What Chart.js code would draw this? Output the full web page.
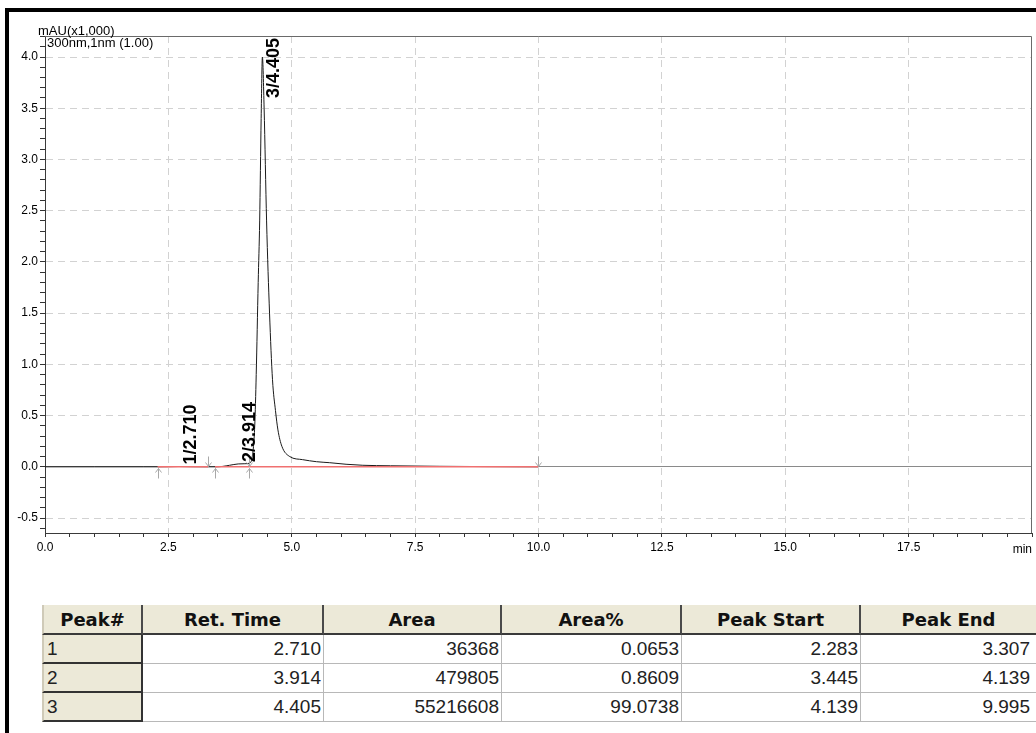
<!DOCTYPE html>
<html>
<head>
<meta charset="utf-8">
<script src="https://cdn.jsdelivr.net/npm/chart.js@4.4.1/dist/chart.umd.min.js"></script>
<style>
  html, body { margin: 0; padding: 0; background: #fff; width: 1036px; height: 733px; overflow: hidden; }
  #frameTop { position: absolute; left: 5px; top: 8px; width: 1031px; height: 4px; background: #000; }
  #frameLeft { position: absolute; left: 5px; top: 8px; width: 4px; height: 725px; background: #000; }
  #chartBox { position: absolute; left: 0; top: 0; width: 1036px; height: 570px; }
  #tableBox { position: absolute; left: 42px; top: 605px; width: 994px; height: 120px; overflow: hidden; }
  table { border-collapse: separate; border-spacing: 0; table-layout: fixed; width: 994px; }
  th { background: #ece9d8; font-family: "DejaVu Sans", sans-serif; font-weight: bold; font-size: 18px; color: #111;
       height: 28px; padding: 0; text-align: center; border-right: 2px solid #4a4a4a; border-bottom: 2px solid #3a3a3a; }
  th:first-child { border-left: 2px solid #cfcab8; }
  th:last-child { border-right: none; }
  td { font-family: "Liberation Sans", Arial, sans-serif; font-size: 19px; color: #222; height: 28px; padding: 0 2px 0 3px;
       text-align: right; background: #fff; border-right: 1px solid #b8b8b8; border-bottom: 1px solid #b8b8b8; }
  td:last-child { border-right: none; padding-right: 6px; }
  td.pk { text-align: left; background: #ece9d8; border-right: 2px solid #333; border-bottom: 2px solid #333; border-left: 2px solid #cfcab8; height: 27px; }
</style>
</head>
<body>
<div id="chartBox"><canvas id="c" width="1036" height="570"></canvas></div>
<div id="frameTop"></div>
<div id="frameLeft"></div>
<div id="tableBox"><table id="tbl"></table></div>
<script>
// ---- Chromatogram data (time in min, signal in mAU x1,000) ----
const times  = [0, 1.0, 2.0, 2.283, 2.5, 2.71, 3.0, 3.307, 3.445, 3.6, 3.74, 3.914, 4.05, 4.139, 4.2, 4.25, 4.28, 4.32, 4.35, 4.38, 4.405, 4.44, 4.49, 4.55, 4.61, 4.67, 4.72, 4.80, 4.96, 5.22, 5.5, 5.77, 6.1, 6.44, 7.0, 8.0, 9.0, 9.995, 10.0];
const signal = [0, 0, 0, 0, 0.001, 0.003, 0.001, 0, 0, 0.004, 0.015, 0.028, 0.03, 0.035, 0.1, 0.4, 0.9, 1.8, 2.4, 3.4, 4.0, 3.5, 2.4, 1.5, 0.85, 0.55, 0.36, 0.2, 0.1, 0.07, 0.05, 0.04, 0.025, 0.015, 0.01, 0.005, 0.002, 0.0, 0.0];

// ---- Peak table ----
const peakNo    = [1, 2, 3];
const retTime   = [2.710, 3.914, 4.405];
const peakArea  = [36368, 479805, 55216608];
const areaPct   = [0.0653, 0.8609, 99.0738];
const peakStart = [2.283, 3.445, 4.139];
const peakEnd   = [3.307, 4.139, 9.995];
const tableHeaders = ['Peak#', 'Ret. Time', 'Area', 'Area%', 'Peak Start', 'Peak End'];

// ---- Axis tick labels ----
const xTickLabels = ['0.0', '2.5', '5.0', '7.5', '10.0', '12.5', '15.0', '17.5', 'min'];
const yTickLabels = ['-0.5', '0.0', '0.5', '1.0', '1.5', '2.0', '2.5', '3.0', '3.5', '4.0'];
const yTitle = 'mAU(x1,000)';
const channelLabel = '300nm,1nm (1.00)';

const X_MIN = 0, X_MAX = 20, X_MAJOR = 2.5, X_MINOR = 0.5;
const Y_MIN = -0.646, Y_MAX = 4.205, Y_MAJOR = 0.5, Y_MINOR = 0.1;

function near(v, step) { const r = v / step; return Math.abs(r - Math.round(r)) < 1e-6; }
function interp(t) {
  for (let i = 0; i < times.length - 1; i++) {
    if (t >= times[i] && t <= times[i + 1]) {
      const f = (t - times[i]) / (times[i + 1] - times[i]);
      return signal[i] + f * (signal[i + 1] - signal[i]);
    }
  }
  return 0;
}

// build table
(function () {
  const tbl = document.getElementById('tbl');
  const widths = [101, 181, 178, 180, 179, 175];
  let cg = '<colgroup>' + widths.map(w => '<col style="width:' + w + 'px">').join('') + '</colgroup>';
  let h = '<tr>' + tableHeaders.map(t => '<th>' + t + '</th>').join('') + '</tr>';
  let rows = peakNo.map((p, i) => '<tr><td class="pk">' + p + '</td><td>' + retTime[i].toFixed(3) + '</td><td>' + peakArea[i] +
    '</td><td>' + areaPct[i].toFixed(4) + '</td><td>' + peakStart[i].toFixed(3) + '</td><td>' + peakEnd[i].toFixed(3) + '</td></tr>').join('');
  tbl.innerHTML = cg + h + rows;
})();

const chromPoints = times.map((t, i) => ({ x: t, y: signal[i] }));
const baselineSets = peakNo.map((p, i) => ({
  data: [{ x: peakStart[i], y: 0 }, { x: peakEnd[i], y: 0 }],
  borderColor: '#f07070', borderWidth: 1.5, pointRadius: 0, tension: 0
}));

const overlay = {
  id: 'overlay',
  beforeDatasetsDraw(chart) {
    const { ctx, chartArea: a } = chart;
    ctx.save();
    ctx.strokeStyle = '#6a6a6a'; ctx.lineWidth = 1;
    ctx.beginPath();
    ctx.moveTo(a.left, a.top + 0.5); ctx.lineTo(a.right - 0.5, a.top + 0.5); ctx.lineTo(a.right - 0.5, a.bottom);
    ctx.stroke();
    ctx.restore();
  },
  afterDatasetsDraw(chart) {
    const { ctx, chartArea: a, scales: { x, y } } = chart;
    ctx.save();
    const y0 = Math.round(y.getPixelForValue(0)) + 0.5;
    ctx.strokeStyle = '#a8a8a8'; ctx.lineWidth = 1;
    function arrow(px, dir) {
      px = Math.round(px) + 0.5;
      ctx.beginPath();
      if (dir > 0) { // below line, pointing up
        ctx.moveTo(px, y0 + 1); ctx.lineTo(px, y0 + 11);
        ctx.moveTo(px - 3, y0 + 5); ctx.lineTo(px, y0 + 1); ctx.lineTo(px + 3, y0 + 5);
      } else { // above line, pointing down
        ctx.moveTo(px, y0 - 11); ctx.lineTo(px, y0 - 1);
        ctx.moveTo(px - 3, y0 - 5); ctx.lineTo(px, y0 - 1); ctx.lineTo(px + 3, y0 - 5);
      }
      ctx.stroke();
    }
    peakNo.forEach((p, i) => { arrow(x.getPixelForValue(peakStart[i]), 1); arrow(x.getPixelForValue(peakEnd[i]), -1); });

    // peak labels
    ctx.fillStyle = '#000';
    ctx.font = 'bold 18px "Liberation Sans", Arial, sans-serif';
    ctx.textAlign = 'left'; ctx.textBaseline = 'alphabetic';
    peakNo.forEach((p, i) => {
      const txt = p + '/' + retTime[i].toFixed(3);
      const w = ctx.measureText(txt).width;
      const px = x.getPixelForValue(retTime[i]) + 17;
      const apex = y.getPixelForValue(interp(retTime[i]));
      const py = Math.max(apex - 2, a.top + 2 + w);
      ctx.save(); ctx.translate(px, py); ctx.rotate(-Math.PI / 2); ctx.fillText(txt, 0, 0); ctx.restore();
    });

    // titles
    ctx.font = '13px "Liberation Sans", Arial, sans-serif';
    ctx.fillStyle = '#000';
    ctx.textBaseline = 'alphabetic';
    ctx.fillText(yTitle, 38, a.top - 1);
    ctx.fillText(channelLabel, a.left + 2, a.top + 11);
    ctx.font = '12px "Liberation Sans", Arial, sans-serif';
    ctx.textAlign = 'right'; ctx.textBaseline = 'middle';
    ctx.fillText(xTickLabels[xTickLabels.length - 1], a.right, x.bottom - 37 + 16 + 1);
    ctx.restore();
  }
};

Chart.defaults.font.family = '"Liberation Sans", Arial, sans-serif';
Chart.defaults.font.size = 12;
Chart.defaults.color = '#000';

new Chart(document.getElementById('c'), {
  type: 'line',
  data: {
    datasets: [...baselineSets, {
      data: chromPoints, borderColor: '#1a1a1a', borderWidth: 1, pointRadius: 0, cubicInterpolationMode: 'monotone'
    }]
  },
  options: {
    responsive: false, animation: false, events: [],
    layout: { padding: { top: 36, right: 4, left: 0, bottom: 0 } },
    plugins: { legend: { display: false }, tooltip: { enabled: false }, title: { display: false } },
    scales: {
      x: {
        type: 'linear', min: X_MIN, max: X_MAX,
        afterBuildTicks(s) {
          const t = [];
          for (let k = 0; k <= Math.round((X_MAX - X_MIN) / X_MINOR); k++) t.push({ value: +(X_MIN + k * X_MINOR).toFixed(3) });
          s.ticks = t;
        },
        afterFit(s) { s.height = 37; },
        ticks: {
          autoSkip: false, maxRotation: 0, padding: 3,
          callback(v) {
            if (!near(v, X_MAJOR)) return '';
            const idx = Math.round(v / X_MAJOR);
            return idx === xTickLabels.length - 1 ? '' : xTickLabels[idx];
          }
        },
        grid: {
          color: c => (c.tick && near(c.tick.value, X_MAJOR) && c.tick.value > X_MIN && c.tick.value < X_MAX) ? '#d2d2d2' : 'rgba(0,0,0,0)',
          tickColor: '#333', tickLength: 4, lineWidth: 1
        },
        border: { color: '#3a3a3a', width: 1, dash: c => c.tick ? [7, 5] : [] }
      },
      y: {
        type: 'linear', min: Y_MIN, max: Y_MAX,
        afterBuildTicks(s) {
          const t = [];
          for (let k = Math.ceil(Y_MIN / Y_MINOR); k <= Math.floor(Y_MAX / Y_MINOR); k++) t.push({ value: +(k * Y_MINOR).toFixed(3) });
          s.ticks = t;
        },
        afterFit(s) { s.width = 45; },
        ticks: {
          autoSkip: false, padding: 2,
          callback(v) {
            if (!near(v, Y_MAJOR)) return '';
            const idx = Math.round((v + 0.5) / Y_MAJOR);
            return yTickLabels[idx] !== undefined ? yTickLabels[idx] : '';
          }
        },
        grid: {
          color: c => {
            if (!c.tick) return 'rgba(0,0,0,0)';
            if (Math.abs(c.tick.value) < 1e-6) return '#8a8a8a';
            return near(c.tick.value, Y_MAJOR) ? '#d2d2d2' : 'rgba(0,0,0,0)';
          },
          tickColor: '#333', tickLength: 5, lineWidth: 1
        },
        border: { color: '#3a3a3a', width: 1, dash: c => (c.tick && Math.abs(c.tick.value) > 1e-6) ? [7, 5] : [] }
      }
    }
  },
  plugins: [overlay]
});
</script>
</body>
</html>
